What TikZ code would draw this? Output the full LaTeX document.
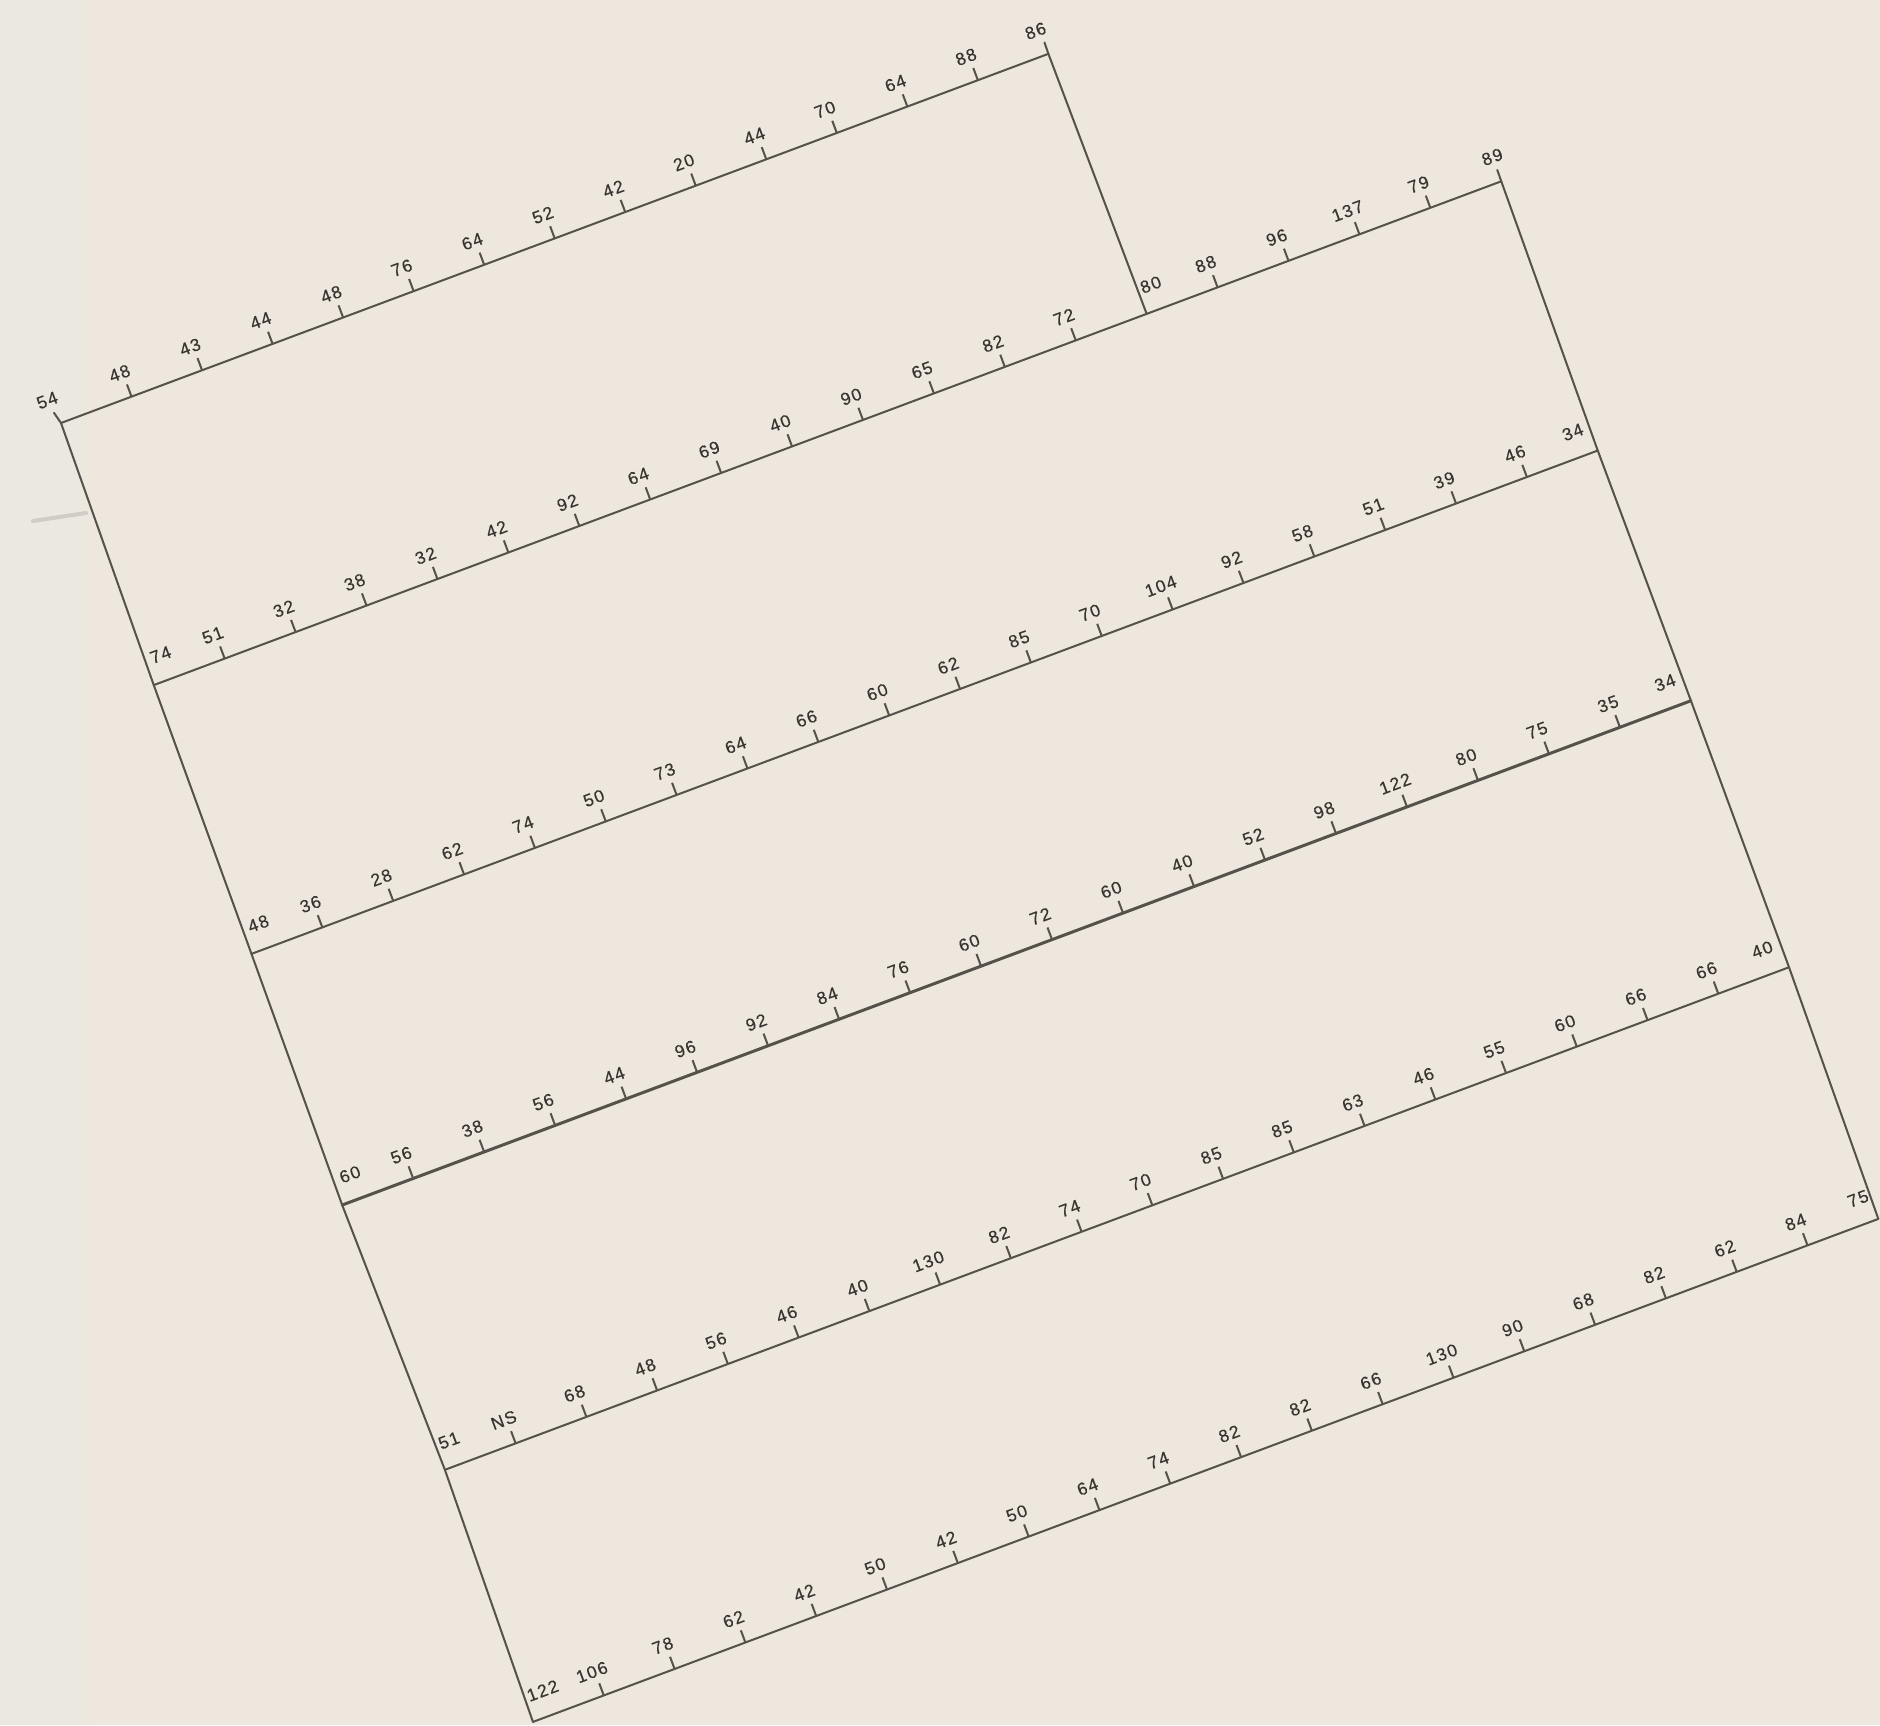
\documentclass[tikz,border=0pt]{standalone}
\usepackage{fontspec}
\newfontfamily\lbfont[LetterSpace=8,FakeBold=0.4]{Liberation Sans}
\definecolor{paper}{HTML}{EDE7DE}
\definecolor{strip}{HTML}{EAE8DF}
\definecolor{ink}{HTML}{55514B}
\definecolor{txt}{HTML}{383531}
\definecolor{smudge}{HTML}{CFCDC5}
\tikzset{
  lbl/.style={font={\lbfont\fontsize{8.8}{9.5}\selectfont}, text=txt, inner sep=0pt, rotate=20.5, anchor=center},
  rule/.style={draw=ink, line width=1.0pt, line cap=round, line join=round},
  heavyrule/.style={rule, line width=1.5pt},
  tickmark/.style={draw=ink, line width=1.0pt},
}
% #1 prefix, #2 u0, #3 v, #4 step, #5 last index, #6 first offset, #7 last offset, #8 labels, #9 special index (label right of edge, no tick)
\newcommand\gridrow[9]{%
  \foreach \lab [count=\i from 0] in {#8} {
    \pgfmathsetmacro\uu{#2+\i*#4}
    \pgfmathsetmacro\off{(\i==0) ? #6 : ((\i==#5) ? #7 : ((\i==#9) ? 14 : -3))}
    \coordinate (#1c\i) at (\uu, #3);
    \ifnum\i>0 \ifnum\i<#5 \ifnum\i=#9 \else
      \draw[tickmark] (#1c\i) -- (\uu, {#3+13});
    \fi\fi\fi
    \node[lbl] (#1L\i) at ({\uu+\off}, {#3+26}) {\lab};
  }
}
\begin{document}
\begin{tikzpicture}[x=0.5pt,y=0.5pt]
\useasboundingbox (0,0) rectangle (1880,-1725);
\fill[paper] (0,0) rectangle (1880,-1725);
\fill[strip] (0,0) rectangle (85,-1725);
\draw[smudge, line width=2pt, line cap=round] (33,-521) -- (86,-513);
\begin{scope}[shift={(61,-423)}, rotate=20.5]
  \gridrow{r0}{0}{0}{75.3}{14}{-5}{-4}{54,48,43,44,48,76,64,52,42,20,44,70,64,88,86}{-1}
  \gridrow{r1}{-4.9}{-278}{75.72}{19}{17}{0}{74,51,32,38,32,42,92,64,69,40,90,65,82,72,80,88,96,137,79,89}{14}
  \gridrow{r2}{-7.5}{-564}{75.65}{19}{17}{-17}{48,36,28,62,74,50,73,64,66,60,62,85,70,104,92,58,51,39,46,34}{-1}
  \gridrow{r3}{-10.5}{-831}{75.79}{19}{18}{-18}{60,56,38,56,44,96,92,84,76,60,72,60,40,52,98,122,80,75,35,34}{-1}
  \gridrow{r4}{-7}{-1115}{75.53}{19}{14}{-19}{51,NS,68,48,56,46,40,130,82,74,70,85,85,63,46,55,60,66,66,40}{-1}
  \gridrow{r5}{-12.8}{-1382}{75.6}{19}{20}{-12}{122,106,78,62,42,50,42,50,64,74,82,82,66,130,90,68,82,62,84,75}{-1}
  \coordinate (lt) at (-3,12);
  \coordinate (mt) at (1054.5,12);
  \coordinate (rt) at (1434,-266);
  \draw[rule] (r0c0) -- (r0c14);
  \draw[rule] (r1c0) -- (r1c19);
  \draw[rule] (r2c0) -- (r2c19);
  \draw[heavyrule] (r3c0) -- (r3c19);
  \draw[rule] (r4c0) -- (r4c19);
  \draw[rule] (r5c0) -- (r5c19);
  \draw[rule] (lt) -- (r0c0) -- (r1c0) -- (r2c0) -- (r3c0) -- (r4c0) -- (r5c0);
  \draw[rule] (mt) -- (r0c14) -- (r1c14);
  \draw[rule] (rt) -- (r1c19) -- (r2c19) -- (r3c19) -- (r4c19) -- (r5c19);
\end{scope}
\end{tikzpicture}
\end{document}
